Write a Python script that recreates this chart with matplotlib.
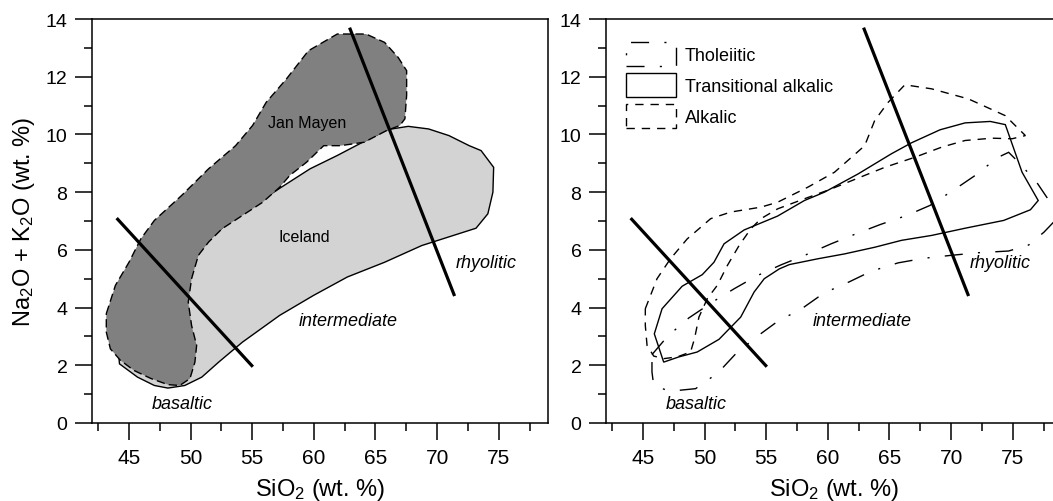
import matplotlib
matplotlib.use('Agg')
import matplotlib.pyplot as plt
from matplotlib.patches import Patch
from matplotlib.ticker import MultipleLocator

plt.rcParams['font.family'] = ['Liberation Sans', 'DejaVu Sans']
plt.rcParams['mathtext.default'] = 'regular'

# outlines of the compositional fields, SiO2 vs total alkalis (wt. %)
jan_mayen_x = [43.16, 43.9, 45.0, 45.96, 47.06, 49.26, 51.46, 53.65, 55.03, 56.13, 57.77, 59.56,
               61.9, 64.23, 65.74, 66.84, 67.53, 67.53, 67.39, 66.98, 65.88, 64.09, 62.17, 60.8,
               59.42, 58.05, 57.23, 55.85, 54.2, 52.55, 51.46, 50.63, 50.08, 49.81, 50.08, 50.49,
               50.35, 49.95, 49.12, 48.16, 46.79, 45.41, 44.31, 43.49, 43.16]
jan_mayen_y = [3.79, 4.77, 5.57, 6.38, 7.02, 7.88, 8.81, 9.61, 10.31, 11.11, 11.92, 12.9,
               13.48, 13.48, 13.19, 12.67, 12.21, 11.35, 10.54, 10.31, 10.13, 9.73, 9.61, 9.61,
               9.04, 8.58, 8.17, 7.65, 7.19, 6.73, 6.27, 5.81, 5.0, 4.19, 3.38, 2.69,
               2.11, 1.54, 1.3, 1.33, 1.54, 1.82, 2.17, 2.57, 3.15]

iceland_x = [44.18, 44.23, 45.69, 47.06, 48.16, 49.53, 50.91, 52.28, 54.2, 57.23, 59.97, 62.72,
             65.74, 68.76, 73.16, 74.12, 74.53, 74.59, 73.57, 72.61, 70.96, 69.31, 67.66, 66.02,
             63.96, 61.9, 59.7, 57.36, 55.3, 53.1, 51.73, 50.91, 49.26, 46.79, 44.59]
iceland_y = [2.29, 2.05, 1.59, 1.3, 1.21, 1.3, 1.59, 2.11, 2.8, 3.73, 4.42, 5.06,
             5.57, 6.15, 6.75, 7.25, 8.0, 8.86, 9.44, 9.61, 9.96, 10.19, 10.28, 10.17,
             9.73, 9.27, 8.81, 8.17, 7.59, 6.96, 6.44, 6.04, 4.88, 3.73, 2.69]

tholeiitic_x = [45.73, 47.01, 48.72, 50.71, 52.39, 54.29, 56.2, 58.23, 60.27, 62.31, 64.27, 66.39,
                68.29, 70.27, 71.96, 73.78, 74.67, 75.54, 76.98, 78.21, 79.02, 78.45, 77.53, 76.3,
                74.67, 72.2, 70.0, 67.83, 65.71, 63.53, 61.68, 59.67, 57.88, 55.92, 54.29, 52.53,
                51.09, 49.27, 47.17, 45.87, 45.73]
tholeiitic_y = [2.37, 3.01, 3.64, 4.21, 4.65, 5.11, 5.48, 5.83, 6.21, 6.56, 6.88, 7.19,
                7.54, 8.09, 8.58, 9.2, 9.38, 9.01, 8.32, 7.54, 7.19, 7.02, 6.61, 6.17,
                5.96, 5.9, 5.81, 5.71, 5.55, 5.26, 4.88, 4.5, 3.96, 3.52, 3.01, 2.4,
                1.74, 1.19, 1.1, 1.3, 1.77]

transitional_x = [46.68, 45.92, 46.55, 48.18, 49.81, 50.76, 51.58, 53.21, 55.92, 58.1, 59.73, 62.45,
                  65.16, 66.79, 69.1, 71.14, 73.18, 74.4, 75.76, 77.07, 76.44, 74.27, 71.14, 68.42,
                  65.98, 63.8, 61.36, 59.18, 56.88, 56.06, 54.84, 54.02, 52.93, 51.17, 49.4, 47.91]
transitional_y = [2.11, 3.09, 3.96, 4.74, 5.14, 5.57, 6.21, 6.69, 7.17, 7.71, 8.0, 8.63,
                  9.33, 9.71, 10.16, 10.4, 10.45, 10.34, 8.69, 7.71, 7.39, 7.02, 6.75, 6.5,
                  6.33, 6.09, 5.86, 5.69, 5.49, 5.34, 5.0, 4.54, 3.67, 2.9, 2.46, 2.29]

alkalic_x = [45.19, 46.14, 47.23, 48.59, 50.49, 52.12, 54.57, 55.92, 58.37, 60.54, 62.99, 63.8,
             64.89, 66.25, 68.42, 71.41, 74.4, 76.03, 74.95, 73.32, 71.14, 69.24, 67.07, 64.62,
             62.99, 60.27, 58.1, 55.92, 54.57, 53.75, 52.8, 51.85, 51.03, 50.22, 49.54, 49.18,
             48.86, 47.77, 46.68, 45.87, 45.33, 45.19, 45.19]
alkalic_y = [3.96, 5.0, 5.69, 6.38, 7.08, 7.31, 7.48, 7.65, 8.17, 8.69, 9.61, 10.48,
             11.11, 11.72, 11.58, 11.23, 10.65, 9.96, 9.85, 9.87, 9.79, 9.56, 9.21, 8.86,
             8.58, 8.11, 7.77, 7.42, 7.08, 6.73, 6.15, 5.46, 4.77, 4.31, 3.67, 2.92,
             2.46, 2.29, 2.23, 2.32, 2.69, 3.38, 3.96]

# basaltic / intermediate / rhyolitic dividers
divider1_x = [44.0, 55.05]
divider1_y = [7.1, 1.95]
divider2_x = [62.9, 71.42]
divider2_y = [13.7, 4.4]

zone_labels = ['basaltic', 'intermediate', 'rhyolitic']
series_labels = ['Tholeiitic', 'Transitional alkalic', 'Alkalic']

tholeiitic_ls = (0, (13, 11, 1.5, 11))
alkalic_ls = (0, (6, 5))

fig = plt.figure(figsize=(10.53, 5.02), dpi=100)
ax1 = fig.add_axes([92 / 1053, 78 / 502, 456 / 1053, 404 / 502])
ax2 = fig.add_axes([606 / 1053, 78 / 502, 456 / 1053, 404 / 502])

for ax in (ax1, ax2):
    ax.set_xlim(42, 79)
    ax.set_ylim(0, 14)
    ax.xaxis.set_major_locator(MultipleLocator(5))
    ax.xaxis.set_minor_locator(MultipleLocator(2.5))
    ax.yaxis.set_major_locator(MultipleLocator(2))
    ax.yaxis.set_minor_locator(MultipleLocator(1))
    ax.tick_params(which='both', direction='out', width=1.1, top=False, right=False)
    ax.tick_params(which='major', length=12.2)
    ax.tick_params(which='minor', length=6.1)
    ax.tick_params(axis='x', which='major', labelsize=15, pad=6)
    ax.tick_params(axis='y', which='major', labelsize=14, pad=5.5)
    for sp in ax.spines.values():
        sp.set_linewidth(1.1)
    ax.set_xlabel('SiO$_2$ (wt. %)', fontsize=17)
    ax.xaxis.set_label_coords(0.5, -0.13)

    ax.plot(divider1_x, divider1_y, color='black', lw=2.3, zorder=4, solid_capstyle='butt')
    ax.plot(divider2_x, divider2_y, color='black', lw=2.3, zorder=4, solid_capstyle='butt')
    ax.text(49.3, 0.67, zone_labels[0], style='italic', fontsize=13, ha='center', va='center')
    ax.text(62.75, 3.55, zone_labels[1], style='italic', fontsize=13, ha='center', va='center')
    ax.text(74.0, 5.57, zone_labels[2], style='italic', fontsize=13, ha='center', va='center')

ax1.set_ylabel('Na$_2$O + K$_2$O (wt. %)', fontsize=17)
ax1.yaxis.set_label_coords(-0.12, 0.5)

# left: Iceland and Jan Mayen fields
ax1.fill(iceland_x, iceland_y, facecolor='#d3d3d3', edgecolor='black', lw=1.0, zorder=1)
ax1.fill(jan_mayen_x, jan_mayen_y, facecolor='#808080', edgecolor='black', lw=1.0,
         linestyle=(0, (6, 3)), zorder=2)
ax1.text(59.45, 10.4, 'Jan Mayen', fontsize=11.5, ha='center', va='center', zorder=5)
ax1.text(59.2, 6.47, 'Iceland', fontsize=11.5, ha='center', va='center', zorder=5)

# right: magma series fields
ax2.fill(tholeiitic_x, tholeiitic_y, fill=False, edgecolor='black', lw=1.0, linestyle=tholeiitic_ls)
ax2.fill(transitional_x, transitional_y, fill=False, edgecolor='black', lw=1.0)
ax2.fill(alkalic_x, alkalic_y, fill=False, edgecolor='black', lw=1.0, linestyle=alkalic_ls)

handles = [Patch(facecolor='white', edgecolor='black', lw=1.0, linestyle=tholeiitic_ls),
           Patch(facecolor='white', edgecolor='black', lw=1.0),
           Patch(facecolor='white', edgecolor='black', lw=1.0, linestyle=alkalic_ls)]
ax2.legend(handles, series_labels, loc='upper left', bbox_to_anchor=(0.044, 0.942),
           frameon=False, fontsize=13, handlelength=2.77, handleheight=1.66,
           labelspacing=0.38, handletextpad=0.5, borderpad=0, borderaxespad=0)

fig.savefig('out.png', dpi=100)
